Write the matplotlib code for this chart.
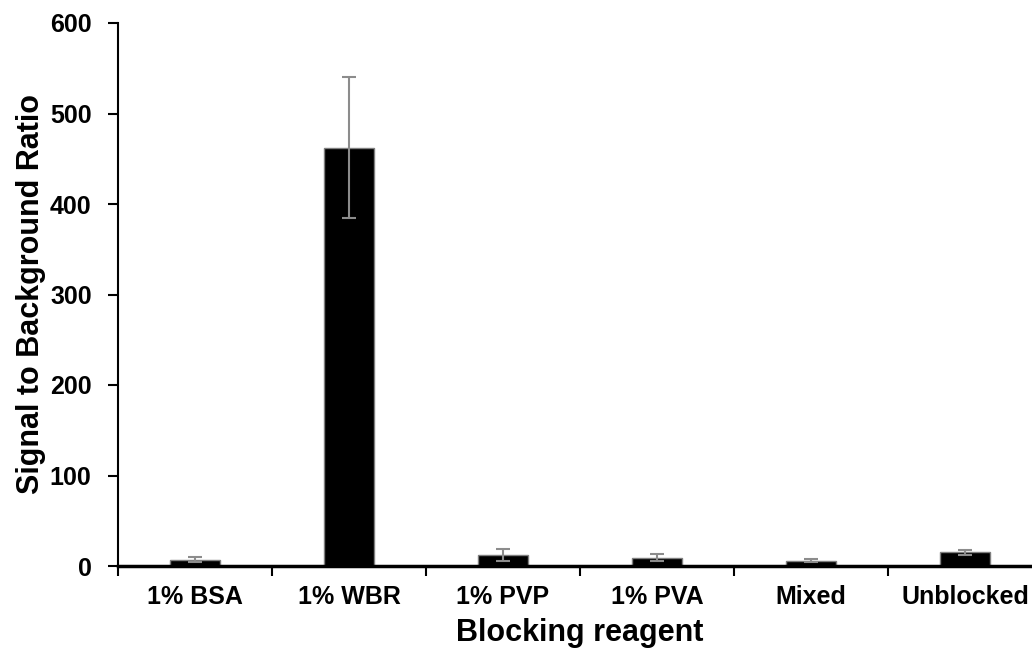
import matplotlib.pyplot as plt
import numpy as np

plt.rcParams['font.family'] = ['Liberation Sans', 'DejaVu Sans']

categories = ["1% BSA", "1% WBR", "1% PVP", "1% PVA", "Mixed", "Unblocked"]
ratio = [7, 462, 12, 9, 6, 15]
ratio_err = [2.5, 78, 7, 4, 2, 3]

fig = plt.figure(figsize=(10.32, 6.55), dpi=100)
ax = fig.add_axes([118/1032, 1 - 566/655, 924/1032, (566 - 23)/655])

x = np.arange(len(categories))
ax.bar(x, ratio, width=0.33, color='black', edgecolor='#7f7f7f', linewidth=1.0)
ax.errorbar(x, ratio, yerr=ratio_err, fmt='none', ecolor='#8c8c8c',
            elinewidth=1.5, capsize=5, capthick=1.5)

ax.set_xlim(-0.5, 5.5)
ax.set_ylim(0, 600)
ax.set_yticks(range(0, 601, 100))
ax.set_xticks(x)
ax.set_xticklabels(categories, fontsize=18, fontweight='bold')
ax.set_xticks(np.arange(-0.5, 6, 1), minor=True)
ax.tick_params(axis='x', which='major', length=0, pad=14)
ax.tick_params(axis='x', which='minor', length=7, width=1.5, direction='out')
ax.tick_params(axis='y', length=7, width=1.5, direction='out', labelsize=18, pad=12)
for lab in ax.get_yticklabels():
    lab.set_fontweight('bold')

ax.spines['top'].set_visible(False)
ax.spines['right'].set_visible(False)
ax.spines['left'].set_linewidth(1.5)
ax.spines['bottom'].set_linewidth(2.5)

ax.set_xlabel("Blocking reagent", fontsize=22, fontweight='bold', labelpad=6)
ax.set_ylabel("Signal to Background Ratio", fontsize=22, fontweight='bold', labelpad=3)

fig.savefig("out.png", dpi=100)
